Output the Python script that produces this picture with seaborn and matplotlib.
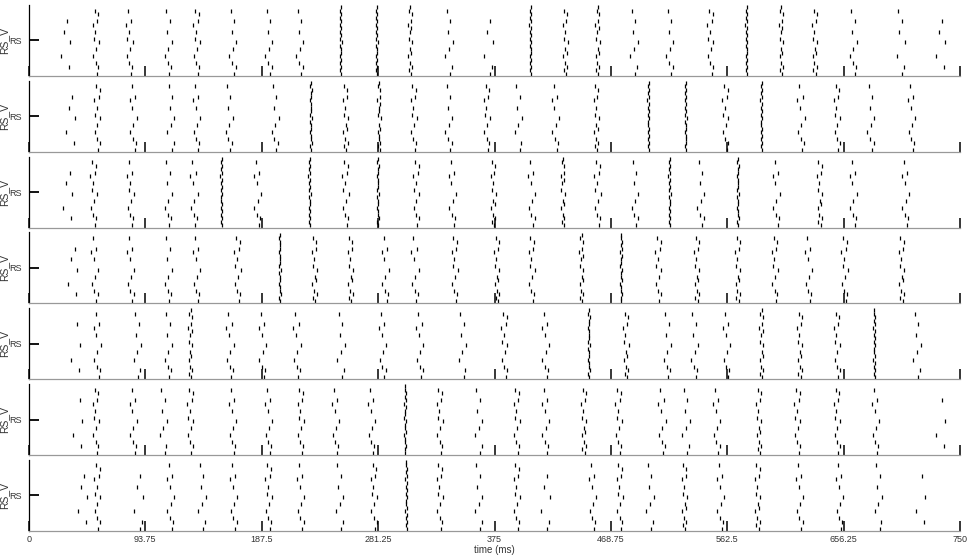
import numpy as np
import pandas as pd
import matplotlib
matplotlib.use("Agg")
import matplotlib.pyplot as plt
import seaborn as sns

# burst (volley) times in ms for each of the 7 panels
burst_times = [
    [29, 54, 81, 112, 135, 164, 193, 218, 251, 280, 307, 338, 370, 404, 432, 458, 487, 516, 549, 578, 606, 633, 664, 702, 734],
    [33, 55, 84, 114, 135, 161, 198, 227, 255, 282, 310, 338, 369, 394, 424, 457, 499, 529, 561, 590, 622, 651, 678, 711],
    [31, 52, 82, 112, 133, 155, 184, 226, 255, 281, 312, 341, 374, 405, 430, 458, 488, 516, 541, 571, 602, 637, 664, 706],
    [35, 53, 82, 112, 135, 168, 202, 230, 259, 287, 311, 343, 377, 405, 445, 477, 507, 538, 571, 601, 628, 657, 703],
    [37, 55, 87, 112, 130, 162, 188, 216, 251, 285, 315, 349, 383, 416, 451, 481, 514, 536, 562, 590, 621, 651, 681, 715],
    [39, 54, 84, 108, 130, 164, 193, 219, 247, 276, 303, 331, 362, 393, 416, 447, 475, 510, 529, 554, 588, 619, 651, 682, 734],
    [43, 55, 88, 114, 139, 165, 193, 219, 250, 278, 304, 331, 362, 393, 416, 454, 476, 500, 528, 557, 587, 621, 653, 684, 718],
]

# how many of the 20 cells fire in each volley
burst_sizes = [
    [5, 12, 11, 9, 12, 9, 9, 9, 20, 20, 16, 8, 6, 20, 14, 16, 8, 9, 12, 20, 16, 14, 9, 7, 5],
    [5, 12, 10, 8, 10, 9, 9, 20, 14, 18, 12, 9, 12, 8, 10, 14, 20, 20, 12, 20, 10, 12, 9, 10],
    [5, 12, 11, 9, 10, 20, 10, 20, 12, 20, 12, 10, 14, 10, 16, 12, 9, 20, 9, 20, 10, 14, 10, 10],
    [5, 10, 10, 9, 10, 12, 20, 14, 14, 10, 10, 12, 14, 12, 16, 20, 12, 14, 14, 12, 10, 12, 14],
    [4, 10, 8, 9, 16, 10, 10, 10, 8, 10, 10, 8, 12, 10, 20, 14, 9, 9, 10, 16, 14, 12, 20, 8],
    [4, 12, 10, 8, 12, 10, 10, 12, 10, 10, 20, 12, 8, 12, 10, 14, 12, 10, 8, 10, 14, 12, 12, 10, 4],
    [5, 12, 6, 10, 8, 10, 12, 10, 8, 12, 20, 12, 8, 12, 6, 10, 12, 8, 14, 10, 14, 10, 10, 8, 4],
]

# per-cell timing offsets (ms) and the order in which cells join a volley
cell_offset = [0.6, -0.9, 1.3, -0.2, 0.4, -1.4, 0.9, 0.1, -0.6, 1.6,
               -1.1, 0.3, -0.4, 1.0, -1.7, 0.7, -0.3, 1.2, -0.8, 0.2]
cell_order = [9, 2, 15, 5, 12, 0, 18, 7, 3, 14, 10, 17, 1, 6, 13, 19, 4, 11, 8, 16]

n_cells = len(cell_offset)
xtick_vals = [0, 93.75, 187.5, 281.25, 375, 468.75, 562.5, 656.25, 750]
xtick_labels = ["0", "93.75", "187.5", "281.25", "375", "468.75", "562.5", "656.25", "750"]


def spikes_for_panel(times, sizes):
    rows = []
    for t, k in zip(times, sizes):
        spread = 0.5 + (n_cells - k) / 8.0
        for c in cell_order[:k]:
            rows.append({"time": t + cell_offset[c] * spread, "cell": c})
    return pd.DataFrame(rows)


sns.set_theme(style="white")
plt.rcParams["font.family"] = ["Liberation Sans", "DejaVu Sans"]

W, H = 971, 559
fig = plt.figure(figsize=(W / 100, H / 100), dpi=100)

left_px, right_px = 29, 960
panel_h = 71
step = 75.8
first_bottom = 76

for i in range(7):
    bottom_px = first_bottom + step * i
    ax = fig.add_axes([left_px / W, 1 - bottom_px / H,
                       (right_px - left_px) / W, panel_h / H])
    df = spikes_for_panel(burst_times[i], burst_sizes[i])
    sns.scatterplot(data=df, x="time", y="cell", marker="|", s=7,
                    color="black", linewidth=0.9, ax=ax, legend=False)

    ax.set_xlim(0, 750)
    ax.set_ylim(-0.6, n_cells - 0.4)
    ax.set_xticks(xtick_vals)
    ax.set_yticks([(n_cells - 1) / 2])
    ax.set_yticklabels(["RS"])
    ax.set_ylabel("RS_V", fontsize=7.5, color="#333333")
    ax.yaxis.set_label_coords((9 - left_px) / (right_px - left_px), 0.5)
    ax.set_xlabel("")
    if i == 6:
        ax.set_xticklabels(xtick_labels)
        ax.set_xlabel("time (ms)", fontsize=7, color="#333333", labelpad=1)
    else:
        ax.set_xticklabels([])

    ax.tick_params(axis="x", which="major", direction="in", length=7, width=1.1,
                   color="black", labelsize=6.5, labelcolor="#333333", pad=3,
                   bottom=True, top=False)
    ax.tick_params(axis="y", which="major", direction="in", length=7, width=1.3,
                   color="black", labelsize=6.5, labelcolor="#333333", pad=5,
                   left=True, right=False)

    for side in ["top", "right"]:
        ax.spines[side].set_visible(False)
    ax.spines["left"].set_color("black")
    ax.spines["left"].set_linewidth(0.9)
    ax.spines["bottom"].set_color("#999999")
    ax.spines["bottom"].set_linewidth(0.9)
    ax.set_facecolor("white")

fig.savefig("out.png", dpi=100, facecolor="white")
